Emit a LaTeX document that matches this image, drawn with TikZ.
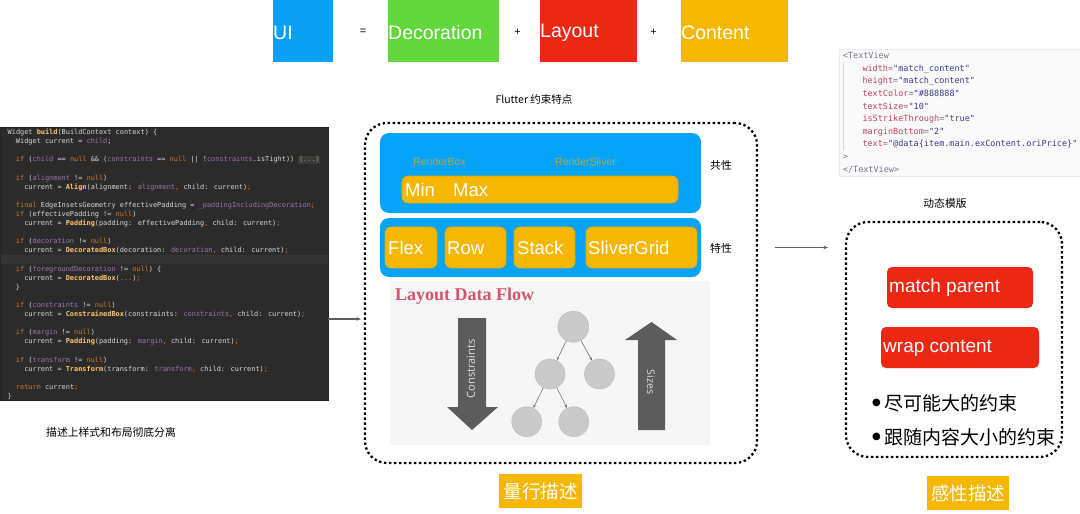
\documentclass[tikz,border=0pt]{standalone}
\usepackage{fontspec}
\usetikzlibrary{arrows.meta,calc}
\setmainfont{Liberation Sans}
\newfontfamily\cjk{Noto Sans CJK SC}
\newfontfamily\codefont{DejaVu Sans Mono}
\newfontfamily\serifbf{Liberation Serif}
\newfontfamily\opensans{Open Sans}
\newfontfamily\dejavu{DejaVu Sans}
\definecolor{uiblue}{HTML}{0AA0F6}
\definecolor{barblue}{HTML}{05A4FA}
\definecolor{decogreen}{HTML}{62D73B}
\definecolor{layred}{HTML}{EC2713}
\definecolor{conty}{HTML}{F5B700}
\definecolor{yedge}{HTML}{E2A800}
\definecolor{codebgc}{HTML}{2B2B2B}
\definecolor{codehl}{HTML}{343434}
\definecolor{codetxtc}{HTML}{D8D8D8}
\definecolor{codekw}{HTML}{CC7832}
\definecolor{codefn}{HTML}{FFC66D}
\definecolor{codepv}{HTML}{9876AA}
\definecolor{codefoldbg}{HTML}{3B3B3B}
\definecolor{codefold}{HTML}{8C9A6A}
\definecolor{olive}{HTML}{B8A83A}
\definecolor{ldfred}{HTML}{D5556F}
\definecolor{ldfbg}{HTML}{F6F6F6}
\definecolor{bigarrow}{HTML}{5C5C5C}
\definecolor{treefill}{HTML}{CACACA}
\definecolor{treeedge}{HTML}{B8B8B8}
\definecolor{treeline}{HTML}{777777}
\definecolor{tvtag}{HTML}{75758C}
\definecolor{tvatt}{HTML}{C4405F}
\definecolor{tvval}{HTML}{3A3A90}
\definecolor{connc}{HTML}{5E5E5E}
\newcommand\ckw[1]{\textcolor{codekw}{#1}}
\newcommand\cfn[1]{\textcolor{codefn}{\bfseries #1}}
\newcommand\cpv[1]{\textcolor{codepv}{#1}}
\newcommand\cfold[1]{{\setlength\fboxsep{0.6pt}\colorbox{codefoldbg}{\textcolor{codefold}{#1}}}}
\newcommand\ttag[1]{\textcolor{tvtag}{#1}}
\newcommand\tatt[1]{\textcolor{tvatt}{#1}}
\newcommand\tval[1]{\textcolor{tvval}{#1}}
\newcommand\bigdot{\raisebox{4.5pt}{\dejavu\fontsize{10}{10}\selectfont ●}}
\newcommand\codeln[4]{\node[codetxt] (#1) at (#2,{132.3+9.1*#3+2.3}) {#4};}
\newcommand\tvln[4]{\node[tvtxt] (#1) at (#2,{55.7+12.6*#3+2.9}) {#4};}
\tikzset{
  plainbox/.style={anchor=north west, inner sep=0pt, outer sep=0pt},
  whitebig/.style={anchor=west, inner sep=0pt, text=white, font=\fontsize{19.5}{22}\selectfont},
  whitemid/.style={anchor=west, inner sep=0pt, text=white, font=\fontsize{18.5}{21}\selectfont},
  codetxt/.style={anchor=base west, inner sep=0pt, text=codetxtc, font=\codefont\fontsize{6.9}{8}\selectfont},
  tvtxt/.style={anchor=base west, inner sep=0pt, font=\codefont\fontsize{8.5}{10}\selectfont},
  cjklbl/.style={inner sep=0pt, text=black, font=\cjk\fontsize{10.8}{13}\selectfont},
  opsym/.style={inner sep=0pt, text=black, font=\fontsize{11}{12}\selectfont},
  dotbox/.style={plainbox, draw=black, line width=2.3pt, dash pattern=on 2.3pt off 2.7pt, rounded corners=22pt},
  bluebar/.style={plainbox, fill=barblue, rounded corners=9pt},
  ybox/.style={plainbox, fill=conty, draw=yedge, line width=0.6pt, rounded corners=6pt},
  rbox/.style={plainbox, fill=layred, rounded corners=5pt},
  conn/.style={draw=connc, line width=1.2pt, -{Stealth[length=4.5pt,width=3.5pt]}},
  treenode/.style={circle, fill=treefill, draw=treeedge, line width=0.4pt, minimum size=31pt, inner sep=0pt},
  treearr/.style={draw=treeline, line width=0.6pt, -{Stealth[length=3.5pt,width=2.8pt]}},
  olivelbl/.style={anchor=west, inner sep=0pt, text=olive, font=\fontsize{10.5}{12}\selectfont},
  cjkbig/.style={inner sep=0pt, text=white, font=\cjk\fontsize{18.5}{21}\selectfont},
  bullettxt/.style={anchor=west, inner sep=0pt, text=black, font=\cjk\fontsize{19}{22}\selectfont}
}
\begin{document}
\begin{tikzpicture}[x=1pt,y=-1pt]
\useasboundingbox (0,0) rectangle (1080,514);
\fill[white] (0,0) rectangle (1080,514);

% ---------- top formula ----------
\node[plainbox, fill=uiblue, minimum width=60pt, minimum height=62pt] (ui) at (273,0) {};
\node[whitebig] (uit) at ($(ui.west)+(0,2)$) {UI};
\node[opsym] (eq) at (363,32) {=};
\node[plainbox, fill=decogreen, minimum width=111pt, minimum height=62pt] (deco) at (387.5,0) {};
\node[whitebig] (decot) at ($(deco.west)+(0.5,2)$) {Decoration};
\node[opsym] (plus1) at (517.6,32) {+};
\node[plainbox, fill=layred, minimum width=97pt, minimum height=62pt] (lay) at (539.5,0) {};
\node[whitebig] (layt) at ($(lay.west)+(0.5,2)$) {Layout};
\node[opsym] (plus2) at (653.6,32) {+};
\node[plainbox, fill=conty, minimum width=107pt, minimum height=62pt] (cont) at (680.5,0) {};
\node[whitebig] (contt) at ($(cont.west)+(0.5,2)$) {Content};
\node[cjklbl, font=\cjk\fontsize{10.5}{12}\selectfont] (flt) at (534,100) {Flutter 约束特点};

% ---------- code block ----------
\node[plainbox, fill=codebgc, draw=black!85, line width=0.5pt, minimum width=328pt, minimum height=273pt] (codebg) at (0,127) {};
\fill[codehl] (0.5,255.2) rectangle (327.5,264.3);
\codeln{c0}{7.5}{0}{Widget \cfn{build}(BuildContext context) \{}
\codeln{c1}{15.8}{1}{Widget current = \cpv{child};}
\codeln{c3}{15.8}{3}{\ckw{if} (\cpv{child} == \ckw{null} \&\& (\cpv{constraints} == \ckw{null} || !\cpv{constraints}.isTight)) \cfold{\{...\}}}
\codeln{c5}{15.8}{5}{\ckw{if} (\cpv{alignment} != \ckw{null})}
\codeln{c6}{24.1}{6}{current = \cfn{Align}(alignment: \cpv{alignment}\ckw{,} child: current)\ckw{;}}
\codeln{c8}{15.8}{8}{\ckw{final} EdgeInsetsGeometry effectivePadding = \cpv{\_paddingIncludingDecoration}\ckw{;}}
\codeln{c9}{15.8}{9}{\ckw{if} (effectivePadding != \ckw{null})}
\codeln{c10}{24.1}{10}{current = \cfn{Padding}(padding: effectivePadding\ckw{,} child: current)\ckw{;}}
\codeln{c12}{15.8}{12}{\ckw{if} (\cpv{decoration} != \ckw{null})}
\codeln{c13}{24.1}{13}{current = \cfn{DecoratedBox}(decoration: \cpv{decoration}\ckw{,} child: current)\ckw{;}}
\codeln{c15}{15.8}{15}{\ckw{if} (\cpv{foregroundDecoration} != \ckw{null}) \{}
\codeln{c16}{24.1}{16}{current = \cfn{DecoratedBox}(\cpv{...})\ckw{;}}
\codeln{c17}{15.8}{17}{\}}
\codeln{c19}{15.8}{19}{\ckw{if} (\cpv{constraints} != \ckw{null})}
\codeln{c20}{24.1}{20}{current = \cfn{ConstrainedBox}(constraints: \cpv{constraints}\ckw{,} child: current)\ckw{;}}
\codeln{c22}{15.8}{22}{\ckw{if} (\cpv{margin} != \ckw{null})}
\codeln{c23}{24.1}{23}{current = \cfn{Padding}(padding: \cpv{margin}\ckw{,} child: current)\ckw{;}}
\codeln{c25}{15.8}{25}{\ckw{if} (\cpv{transform} != \ckw{null})}
\codeln{c26}{24.1}{26}{current = \cfn{Transform}(transform: \cpv{transform}\ckw{,} child: current)\ckw{;}}
\codeln{c28}{15.8}{28}{\ckw{return} current\ckw{;}}
\codeln{c29}{7.5}{29}{\}}
\node[cjklbl] (codecap) at (111,432) {描述上样式和布局彻底分离};

% ---------- middle ----------
\node[dotbox, minimum width=392pt, minimum height=340pt] (midbox) at (365,123) {};
\node[bluebar, minimum width=321pt, minimum height=80pt] (blue1) at (380,133) {};
\node[olivelbl] (rbox) at (413,162) {RenderBox};
\node[olivelbl] (rsliver) at (555,162) {RenderSliver};
\node[ybox, minimum width=276pt, minimum height=27pt] (minmax) at (402,176) {};
\node[whitemid] (mint) at (405,190) {Min};
\node[whitemid] (maxt) at (453,190) {Max};
\node[cjklbl, anchor=west] (gx) at (710,165) {共性};
\node[bluebar, minimum width=321pt, minimum height=59pt] (blue2) at (380,218) {};
\node[ybox, minimum width=52pt, minimum height=41pt] (flex) at (385,227) {};
\node[whitemid] (flext) at (388,248) {Flex};
\node[ybox, minimum width=61pt, minimum height=41pt] (row) at (445,227) {};
\node[whitemid] (rowt) at (447,248) {Row};
\node[ybox, minimum width=61pt, minimum height=41pt] (stack) at (514,227) {};
\node[whitemid] (stackt) at (517,248) {Stack};
\node[ybox, minimum width=111pt, minimum height=41pt] (sgrid) at (586,227) {};
\node[whitemid] (sgridt) at (588,248) {SliverGrid};
\node[cjklbl, anchor=west] (tx) at (710,248) {特性};

% Layout data flow picture
\node[plainbox, fill=ldfbg, minimum width=320pt, minimum height=164pt] (ldf) at (390,281) {};
\node[anchor=west, inner sep=0pt, text=ldfred, font=\serifbf\bfseries\fontsize{18}{20}\selectfont] (ldft) at (395,296) {Layout Data Flow};
\fill[bigarrow] (458,318) -- (486,318) -- (486,407) -- (498,407) -- (472,430) -- (447,407) -- (458,407) -- cycle;
\fill[bigarrow] (638,430) -- (665,430) -- (665,340) -- (677,340) -- (651.5,322) -- (625,340) -- (638,340) -- cycle;
\node[rotate=90, inner sep=0pt, text=white!88!black, font=\opensans\fontsize{11}{12}\selectfont] (cons) at (471,369) {Constraints};
\node[rotate=-90, inner sep=0pt, text=white!88!black, font=\opensans\fontsize{10.5}{12}\selectfont] (sizes) at (651,382) {Sizes};
\node[treenode] (root) at (573.3,326.7) {};
\node[treenode, minimum size=30pt] (ml) at (550,374) {};
\node[treenode, minimum size=30pt] (mr) at (599.5,374) {};
\node[treenode, minimum size=30pt] (bl) at (526.7,421.7) {};
\node[treenode, minimum size=30pt] (br) at (573.8,421.7) {};
\draw[treearr] (root) -- (ml);
\draw[treearr] (root) -- (mr);
\draw[treearr] (ml) -- (bl);
\draw[treearr] (ml) -- (br);

\node[plainbox, fill=conty, minimum width=83pt, minimum height=34pt] (lx) at (499,474) {};
\node[cjkbig] (lxt) at (lx.center) {量行描述};

% ---------- right ----------
\node[plainbox, fill=white!98!black, draw=white!92!black, line width=0.5pt, minimum width=241pt, minimum height=127pt] (tvbg) at (839,49) {};
\draw[white!85!black, line width=0.5pt] (843.5,62) -- (843.5,150);
\tvln{t0}{842.7}{0}{\ttag{<TextView}}
\tvln{t1}{862.3}{1}{\tatt{width}\ttag{=}\tval{"match\_content"}}
\tvln{t2}{862.3}{2}{\tatt{height}\ttag{=}\tval{"match\_content"}}
\tvln{t3}{862.3}{3}{\tatt{textColor}\ttag{=}\tval{"\#888888"}}
\tvln{t4}{862.3}{4}{\tatt{textSize}\ttag{=}\tval{"10"}}
\tvln{t5}{862.3}{5}{\tatt{isStrikeThrough}\ttag{=}\tval{"true"}}
\tvln{t6}{862.3}{6}{\tatt{marginBottom}\ttag{=}\tval{"2"}}
\tvln{t7}{862.3}{7}{\tatt{text}\ttag{=}\tval{"@data\{item.main.exContent.oriPrice\}"}}
\tvln{t8}{842.7}{8}{\ttag{>}}
\tvln{t9}{842.7}{9}{\ttag{</TextView>}}
\node[cjklbl] (dt) at (945,203) {动态模版};

\node[dotbox, minimum width=216pt, minimum height=235pt] (rightbox) at (846,222) {};
\node[rbox, minimum width=146pt, minimum height=41pt] (mp) at (887,267) {};
\node[whitebig, font=\fontsize{19}{22}\selectfont] (mpt) at (889,288) {match parent};
\node[rbox, minimum width=158pt, minimum height=41pt] (wc) at (881,327) {};
\node[whitebig, font=\fontsize{19}{22}\selectfont] (wct) at (883,348) {wrap content};
\node[bullettxt] (b1) at (872,403) {\bigdot\hspace{4pt}尽可能大的约束};
\node[bullettxt] (b2) at (872,437) {\bigdot\hspace{4pt}跟随内容大小的约束};

\node[plainbox, fill=conty, minimum width=82pt, minimum height=34pt] (gx2) at (927,476) {};
\node[cjkbig] (gx2t) at (gx2.center) {感性描述};

% ---------- connectors ----------
\draw[conn, shorten >=4pt] (codebg.east |- 0,319) -- (midbox.west |- 0,319);
\draw[conn, shorten <=18pt, shorten >=18pt] (midbox.east |- 0,247.5) -- (rightbox.west |- 0,247.5);
\end{tikzpicture}
\end{document}
